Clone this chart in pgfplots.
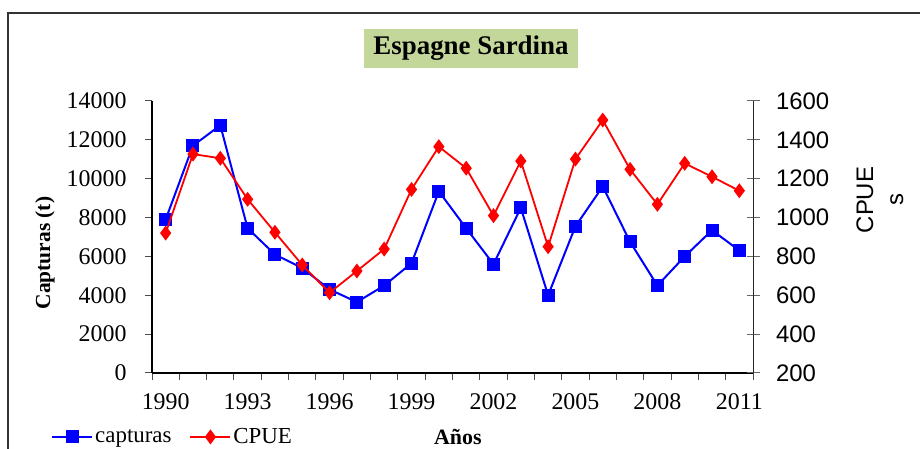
\documentclass[border=0pt]{standalone}
\usepackage{pgfplots}
\pgfplotsset{compat=1.18}
\usepackage{fontspec}
\setmainfont{Liberation Serif}
\newfontfamily\arialf{Liberation Sans}
\definecolor{titlegreen}{RGB}{196,215,155}
\pgfplotstableread{
year capt
1990 7900
1991 11700
1992 12750
1993 7450
1994 6100
1995 5400
1996 4300
1997 3650
1998 4500
1999 5650
2000 9350
2001 7450
2002 5600
2003 8500
2004 4000
2005 7550
2006 9600
2007 6750
2008 4500
2009 6000
2010 7350
2011 6300
}\captdata
\pgfplotstableread{
year cpue
1990 920
1991 1327
1992 1305
1993 1094
1994 924
1995 756
1996 613
1997 725
1998 838
1999 1145
2000 1365
2001 1254
2002 1010
2003 1291
2004 850
2005 1301
2006 1502
2007 1248
2008 1068
2009 1279
2010 1210
2011 1138
}\cpuedata
\begin{document}
\begin{tikzpicture}[x=1bp,y=1bp]
\useasboundingbox (0,0) rectangle (920,449);
\draw[line width=1.5bp, black!80] (8,-5) -- (8,436) -- (925,436);
\node[fill=titlegreen, minimum width=214bp, minimum height=39bp, inner sep=0pt, font=\fontsize{27}{30}\selectfont\bfseries] at (471,400.5) {Espagne Sardina};

\begin{axis}[
  at={(152bp,76bp)}, anchor=south west, scale only axis,
  width=601bp, height=272bp,
  xmin=1989.5, xmax=2011.5, ymin=0, ymax=14000,
  axis x line*=bottom, axis y line*=left,
  axis line style={line width=1.5bp, black},
  tick style={line width=1bp, black!70},
  tick align=outside, major tick length=7bp,
  xtick={1989.5,1990.5,...,2011.5}, xticklabels={},
  extra x ticks={1990,1993,...,2011},
  extra x tick style={major tick length=0pt},
  ytick={0,2000,...,14000},
  scaled ticks=false,
  /pgf/number format/.cd, fixed, 1000 sep={}, assume math mode=true,
  /pgfplots/.cd,
  ticklabel style={font=\fontsize{24}{24}\selectfont},
  xticklabel style={anchor=center, yshift=-29bp},
  yticklabel style={anchor=east, xshift=-15bp},
  every axis y label/.style={at={(axis description cs:-0.178,0.441)}, rotate=90, anchor=center},
  ylabel={Capturas (t)},
  ylabel style={font=\fontsize{21.5}{24}\selectfont\bfseries},
  every axis x label/.style={at={(axis description cs:0.509,-0.235)}, anchor=center},
  xlabel={Años},
  xlabel style={font=\fontsize{22}{24}\selectfont\bfseries},
  legend style={at={(axis description cs:-0.173,-0.235)}, anchor=west, draw=none, fill=none,
     legend columns=2, font=\fontsize{23}{24}\selectfont,
     /tikz/every even column/.append style={column sep=16bp}},
  legend cell align=left,
  legend image code/.code={\draw[mark repeat=2,mark phase=2,#1] plot coordinates {(0bp,0bp) (20bp,0bp) (40bp,0bp)};},
]
\addplot[blue, line width=2bp, mark=square*, mark size=5.5bp, mark options={solid}] table[x=year,y=capt] {\captdata};
\addlegendentry{capturas}
\addlegendimage{red, line width=1.8bp, mark=diamond*, mark size=6bp}
\addlegendentry{CPUE}
\end{axis}

\begin{axis}[
  at={(152bp,76bp)}, anchor=south west, scale only axis,
  width=601bp, height=272bp,
  xmin=1989.5, xmax=2011.5, ymin=200, ymax=1600,
  axis x line=none, axis y line*=right,
  axis line style={line width=1bp, black!85},
  tick style={line width=1bp, black!60},
  tick align=center, major tick length=13bp,
  ytick={200,400,...,1600},
  scaled ticks=false,
  /pgf/number format/.cd, fixed, 1000 sep={}, assume math mode=true,
  /pgfplots/.cd,
  yticklabel style={anchor=west, xshift=13bp, font=\arialf\fontsize{24}{24}\selectfont},
  every axis y label/.style={at={(axis description cs:1.211,0.636)}, rotate=90, anchor=center},
  ylabel={CPUE\\s},
  ylabel style={align=center, font=\arialf\fontsize{24}{30}\selectfont},
]
\addplot[red, line width=1.8bp, mark=diamond*, mark size=6bp, mark options={solid}] table[x=year,y=cpue] {\cpuedata};
\end{axis}
\end{tikzpicture}
\end{document}
